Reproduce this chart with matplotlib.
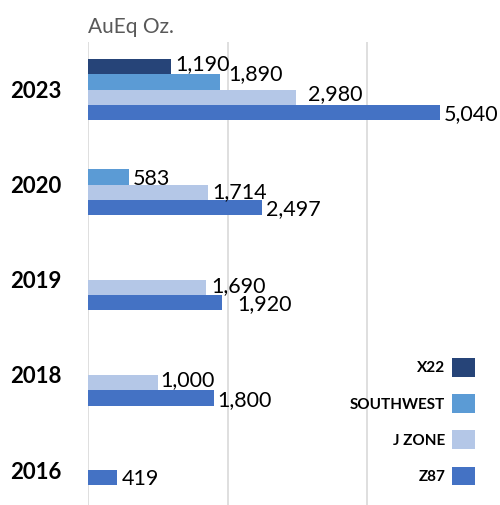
import numpy as np
import matplotlib
matplotlib.use("Agg")
import matplotlib.pyplot as plt

plt.rcParams['font.family'] = ['Lato', 'DejaVu Sans']

# data
years = ['2023', '2020', '2019', '2018', '2016']
series = ['X22', 'SOUTHWEST', 'J ZONE', 'Z87']
x22 = [1190, np.nan, np.nan, np.nan, np.nan]
southwest = [1890, 583, np.nan, np.nan, np.nan]
j_zone = [2980, 1714, 1690, 1000, np.nan]
z87 = [5040, 2497, 1920, 1800, 419]
values = [x22, southwest, j_zone, z87]
colors = ['#264478', '#5B9BD5', '#B4C7E7', '#4472C4']

# in the original the lone 2016 bar sits one slot higher than the others
slot_override = {('Z87', '2016'): 2}

# hand nudges of some data labels (pixels: right, up), like in the original
nudges = {
    ('X22', '2023'): (0, 4),
    ('SOUTHWEST', '2023'): (4, 10),
    ('J ZONE', '2023'): (8, 5),
    ('J ZONE', '2020'): (1, 2),
    ('J ZONE', '2019'): (1, 3),
    ('Z87', '2019'): (11, 0),
    ('J ZONE', '2018'): (-2, 4),
}

px = 0.72  # points per pixel at dpi 100
fig = plt.figure(figsize=(5, 5.05), dpi=100)
ax = fig.add_axes([88 / 500, -0.025, 0.838, 0.9418])

y = np.arange(len(years))
h = 0.161
for i, (name, vals, col) in enumerate(zip(series, values, colors)):
    slots = [slot_override.get((name, yr), i) for yr in years]
    pos = y + (np.array(slots) - 1.5) * h
    ax.barh(pos, vals, height=h, color=col, label=name, zorder=3)
    for yr, p, v in zip(years, pos, vals):
        if np.isnan(v):
            continue
        dx, dy = nudges.get((name, yr), (0, 0))
        ax.annotate(f"{v:,.0f}", xy=(v, p), xytext=((4 + dx) * px, (dy - 7.7) * px),
                    textcoords='offset points', ha='left', va='baseline',
                    fontsize=15.5, color='black', zorder=4)

ax.set_xlim(0, 6000)
ax.set_ylim(len(years) - 0.5, -0.5)
ax.set_xticks([0, 2000, 4000, 6000])
ax.xaxis.set_ticks_position('none')
ax.tick_params(axis='x', labelbottom=False)
ax.set_yticks(y)
ax.set_yticklabels(years, fontsize=16, fontweight='bold')
ax.tick_params(axis='y', length=0, pad=19)
ax.grid(axis='x', color='#d9d9d9', linewidth=1.2, zorder=0)
for s in ax.spines.values():
    s.set_visible(False)

ax.text(0, 1.01, 'AuEq Oz.', transform=ax.transAxes, fontsize=15,
        color='#595959', ha='left', va='bottom')

ax.legend(loc='upper right', bbox_to_anchor=(475 / 500, (505 - 358) / 505),
          bbox_transform=fig.transFigure, frameon=False, markerfirst=False,
          prop={'weight': 'bold', 'size': 11}, handlelength=1.5, handleheight=1.5,
          labelspacing=1.15, handletextpad=0.45, borderpad=0, borderaxespad=0)

fig.savefig('out.png', dpi=100)
